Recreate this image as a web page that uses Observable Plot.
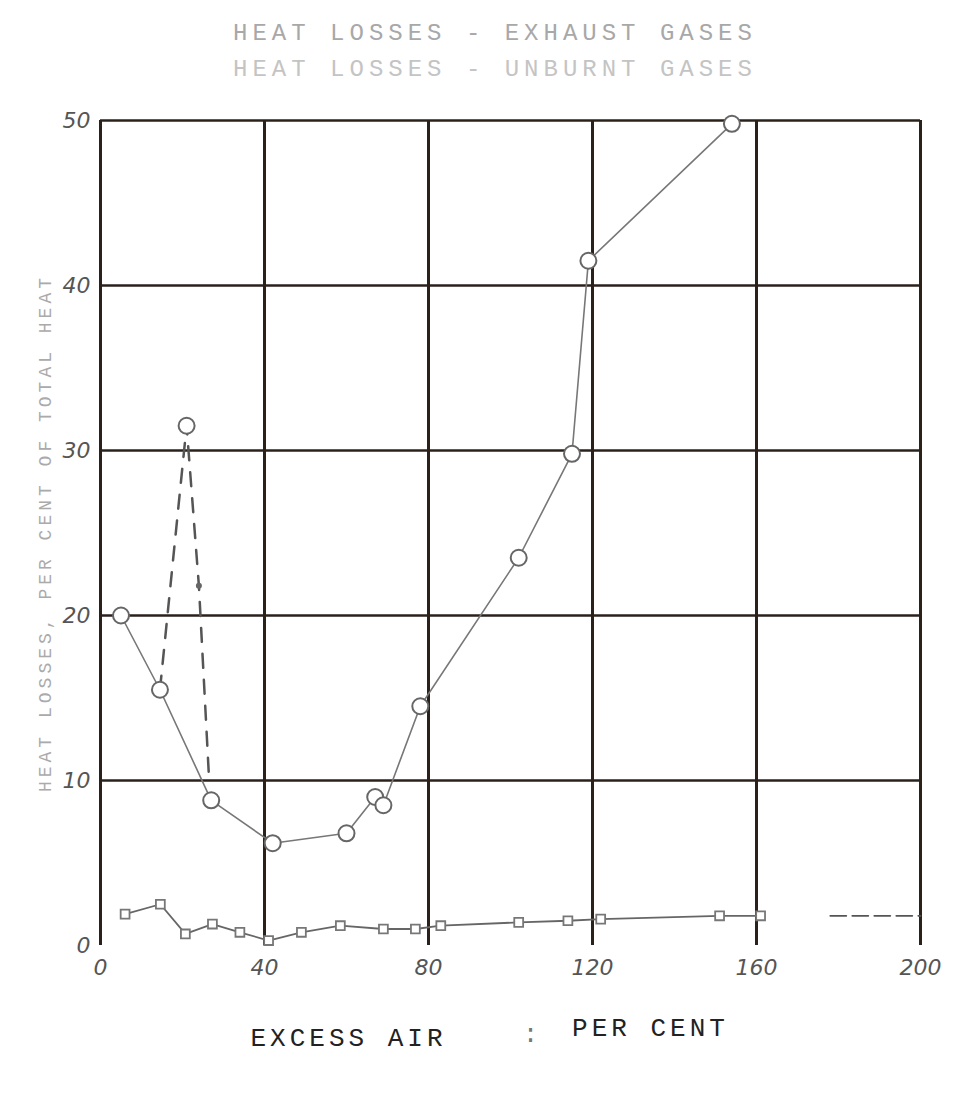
<!DOCTYPE html>
<html>
<head>
<meta charset="utf-8">
<script src="https://cdn.jsdelivr.net/npm/d3@7"></script>
<script src="https://cdn.jsdelivr.net/npm/@observablehq/plot@0.6"></script>
<style>
  body { margin: 0; background: #fff; width: 978px; height: 1093px; overflow: hidden; }
  #title { height: 90px; position: relative; font-family: "Liberation Mono", "DejaVu Sans Mono", monospace; color: #a8a8a8; }
  #title div { position: absolute; left: 0; width: 990px; text-align: center; font-size: 24px; letter-spacing: 5px; }
</style>
</head>
<body>
<div id="title">
  <div style="top:20px">HEAT LOSSES - EXHAUST GASES</div>
  <div style="top:56px;color:#c4c4c4">HEAT LOSSES - UNBURNT GASES</div>
</div>
<div id="chart"></div>
<script>
// Tick values
const xTicks = [0, 40, 80, 120, 160, 200];
const yTicks = [0, 10, 20, 30, 40, 50];

// Solid series with open circles
const mainX = [5, 14.5, 27, 42, 60, 67, 69, 78, 102, 115, 119, 154];
const mainY = [20, 15.5, 8.8, 6.2, 6.8, 9, 8.5, 14.5, 23.5, 29.8, 41.5, 49.8];

// Dashed series
const dashX = [14.5, 21, 24, 26.5];
const dashY = [15.5, 31.5, 21.8, 10];

// Lower series (small squares)
const lowX = [6, 14.6, 20.7, 27.3, 34, 41, 49, 58.5, 69, 76.8, 83, 102, 114, 122, 151, 161];
const lowY = [1.9, 2.5, 0.7, 1.3, 0.8, 0.3, 0.8, 1.2, 1.0, 1.0, 1.2, 1.4, 1.5, 1.6, 1.8, 1.8];
const lowDashX = [178, 200];
const lowDashY = [1.8, 1.8];

const main = mainX.map((x, i) => ({x, y: mainY[i]}));
const dash = dashX.map((x, i) => ({x, y: dashY[i]}));
const low = lowX.map((x, i) => ({x, y: lowY[i]}));
const lowDash = lowDashX.map((x, i) => ({x, y: lowDashY[i]}));

const gridColor = "#2a211b";
const mono = "'Liberation Mono', 'DejaVu Sans Mono', monospace";

const chart = Plot.plot({
  width: 978,
  height: 1003,
  marginLeft: 100,
  marginRight: 58,
  marginTop: 30,
  marginBottom: 148,
  x: {domain: [0, 200]},
  y: {domain: [0, 50]},
  style: {background: "#fff"},
  marks: [
    Plot.ruleX(xTicks, {stroke: gridColor, strokeWidth: 3}),
    Plot.ruleY(yTicks.filter(d => d > 0), {stroke: gridColor, strokeWidth: 2.5}),
    Plot.axisX({ticks: xTicks, tickSize: 0, tickPadding: 14, label: null, fontSize: 22, fontStyle: "italic", fill: "#555", fontFamily: "DejaVu Sans"}),
    Plot.axisY({ticks: yTicks, tickSize: 0, tickPadding: 10, label: null, fontSize: 22, fontStyle: "italic", fill: "#555", fontFamily: "DejaVu Sans"}),
    // dashed series
    Plot.line(dash, {x: "x", y: "y", stroke: "#555", strokeWidth: 2.5, strokeDasharray: "14,12"}),
    Plot.dot([dash[1]], {x: "x", y: "y", r: 8, stroke: "#666", strokeWidth: 2, fill: "#fff"}),
    Plot.dot([dash[2]], {x: "x", y: "y", r: 3, fill: "#666"}),
    // main solid series
    Plot.line(main, {x: "x", y: "y", stroke: "#777", strokeWidth: 1.6}),
    Plot.dot(main, {x: "x", y: "y", r: 8, stroke: "#666", strokeWidth: 2, fill: "#fff"}),
    // lower series
    Plot.line(low, {x: "x", y: "y", stroke: "#666", strokeWidth: 1.8}),
    Plot.line(lowDash, {x: "x", y: "y", stroke: "#555", strokeWidth: 1.8, strokeDasharray: "16,6"}),
    Plot.dot(low, {x: "x", y: "y", symbol: "square", r: 5, stroke: "#777", strokeWidth: 1.8, fill: "#fff"}),
    // y axis label
    Plot.text(["HEAT LOSSES, PER CENT OF TOTAL HEAT"], {frameAnchor: "left", rotate: -90, dx: -55, dy: 0, fontSize: 18, fill: "#aaa", fontFamily: mono, textAnchor: "middle"}),
    // x axis label pieces
    Plot.text(["EXCESS AIR"], {frameAnchor: "bottom", dx: -162, dy: 100, fontSize: 26, fill: "#222", fontFamily: mono}),
    Plot.text([":"], {frameAnchor: "bottom", dx: 22, dy: 96, fontSize: 26, fill: "#777", fontFamily: mono}),
    Plot.text(["PER CENT"], {frameAnchor: "bottom", dx: 140, dy: 90, fontSize: 26, fill: "#222", fontFamily: mono})
  ]
});
chart.style.display = "block";
d3.select(chart).selectAll("text").filter(function(){ return this.closest('[aria-label="text"]'); });
document.getElementById("chart").appendChild(chart);
// letter spacing for the typewriter labels
d3.select(chart).selectAll('g[aria-label="text"] text').style("letter-spacing", "4px");
</script>
</body>
</html>
